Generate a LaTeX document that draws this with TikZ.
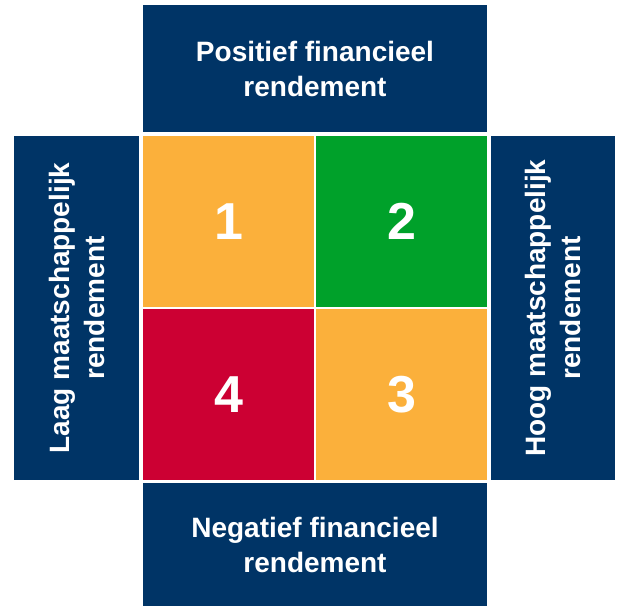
\documentclass[tikz,border=0pt]{standalone}
\usepackage{fontspec}
\setmainfont{Liberation Sans}
\definecolor{kwblue}{HTML}{003466}
\definecolor{kworange}{HTML}{FBB03B}
\definecolor{kwgreen}{HTML}{00A12A}
\definecolor{kwred}{HTML}{CC0033}
\tikzset{
  label box/.style={fill=kwblue, text=white, inner sep=0pt, align=center,
    font=\bfseries\fontsize{28}{35}\selectfont},
  cell/.style={text=white, inner sep=0pt, minimum width=171pt, minimum height=171pt,
    font=\bfseries\fontsize{52}{52}\selectfont},
}
\begin{document}
\begin{tikzpicture}[x=1pt,y=-1pt]
      \useasboundingbox (0,0) rectangle (620,606);
      % kwadranten
      \draw
        (228.5,221.5) node[cell, fill=kworange] (1){1}
        (401.5,221.5) node[cell, fill=kwgreen] (2){2}
        (401.5,394.5) node[cell, fill=kworange] (3){3}
        (228.5,394.5) node[cell, fill=kwred] (4){4};
      % assen
      \node[label box, minimum width=344pt, minimum height=127pt] (top) at (315,68.5)
        {Positief financieel\\rendement};
      \node[label box, minimum width=344pt, minimum height=123pt] (bottom) at (315,544.5)
        {Negatief financieel\\rendement};
      \node[label box, rotate=90, minimum width=344pt, minimum height=125pt] (left) at (76.5,308)
        {Laag maatschappelijk\\rendement};
      \node[label box, rotate=90, minimum width=344pt, minimum height=124pt] (right) at (553,308)
        {Hoog maatschappelijk\\rendement};
    \end{tikzpicture}
\end{document}
